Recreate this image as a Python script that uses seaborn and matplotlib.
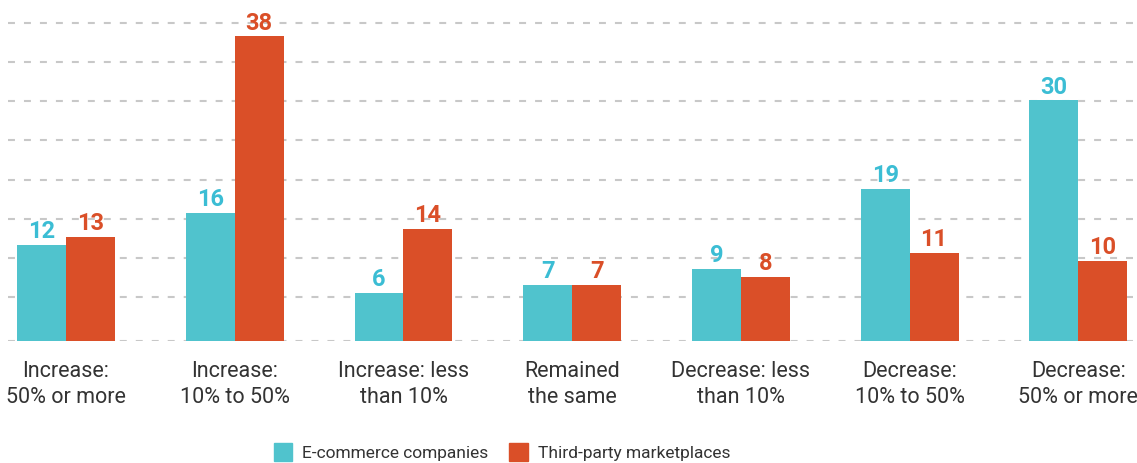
import pandas as pd
import numpy as np
import matplotlib
matplotlib.use("Agg")
import matplotlib.pyplot as plt
import seaborn as sns

categories = ["Increase:\n50% or more", "Increase:\n10% to 50%", "Increase: less\nthan 10%",
              "Remained\nthe same", "Decrease: less\nthan 10%", "Decrease:\n10% to 50%",
              "Decrease:\n50% or more"]
ecommerce = [12, 16, 6, 7, 9, 19, 30]
marketplaces = [13, 38, 14, 7, 8, 11, 10]
series_names = ["E-commerce companies", "Third-party marketplaces"]

bar_colors = ["#50C3CD", "#DA4F28"]
text_colors = ["#3BBDD4", "#DA4F28"]

sns.set_style("white")
plt.rcParams["font.family"] = ["Roboto", "DejaVu Sans"]
plt.rcParams["lines.scale_dashes"] = False

df = pd.DataFrame({
    "category": categories * 2,
    "value": ecommerce + marketplaces,
    "series": [series_names[0]] * 7 + [series_names[1]] * 7,
})

fig = plt.figure(figsize=(11.37, 4.63), dpi=100)
ax = fig.add_axes([8 / 1137, 122 / 463, 1129 / 1137, 341 / 463])

sns.barplot(data=df, x="category", y="value", hue="series", palette=bar_colors,
            width=0.58, saturation=1, linewidth=0, ax=ax, legend=False)

ax.set_xlim(-0.344, 6.348)
ax.set_ylim(0, 42.5)

# dashed guide lines
ax.set_yticks([0] + list(5.5 + 4.875 * np.arange(8)))
ax.yaxis.grid(True, color="#C8C8C8", linewidth=1.5, linestyle=(0, (5, 6.5)))
ax.set_axisbelow(True)
ax.tick_params(axis="y", left=False, labelleft=False)
ax.tick_params(axis="x", bottom=False, pad=11, labelsize=15.5, labelcolor="#333333")
for lbl in ax.get_xticklabels():
    lbl.set_linespacing(1.3)
for s in ax.spines.values():
    s.set_visible(False)
ax.set_xlabel("")
ax.set_ylabel("")

for cont, col in zip(ax.containers, text_colors):
    ax.bar_label(cont, padding=1, color=col, fontsize=17, fontweight="bold")

handles = [plt.Rectangle((0, 0), 1, 1, color=c) for c in bar_colors]
fig.legend(handles, series_names, loc="center", bbox_to_anchor=(502 / 1137, 1 - 452 / 463),
           ncol=2, frameon=False, fontsize=12.5, handlelength=1.05, handleheight=1.25,
           handletextpad=0.6, columnspacing=1.2, labelcolor="#333333")

fig.savefig("out.png", dpi=100)
